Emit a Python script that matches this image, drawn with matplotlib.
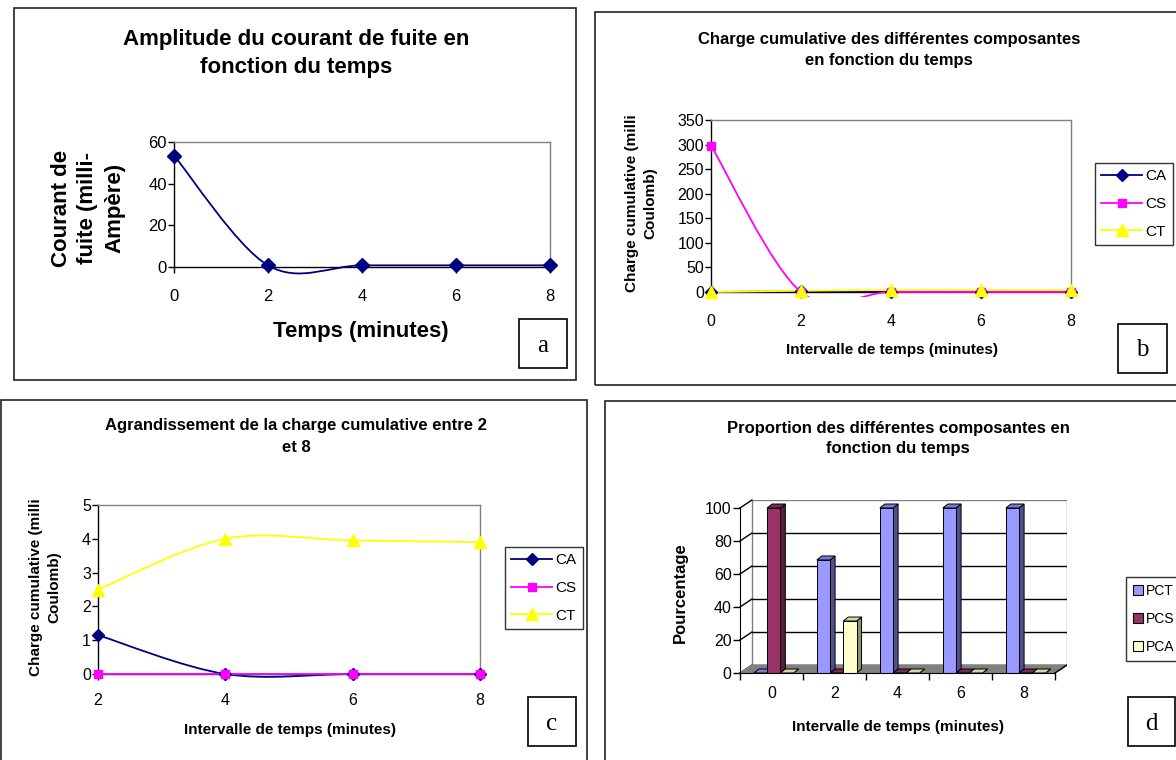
import numpy as np
import matplotlib
matplotlib.use('Agg')
import matplotlib.pyplot as plt
from matplotlib.path import Path
from matplotlib.patches import PathPatch, Rectangle, Patch
from matplotlib.lines import Line2D

plt.rcParams['font.family'] = ['Liberation Sans', 'DejaVu Sans']

W, H = 1176, 760

# values
temps = [0, 2, 4, 6, 8]
courant = [53.5, 0.8, 0.8, 0.8, 0.8]
ca = [0, 1.15, 0, 0, 0]
cs = [298, 0, 0, 0, 0]
ct = [0, 2.5, 4.0, 3.95, 3.9]
pct = [0, 68.5, 100, 100, 100]
pcs = [100, 0, 0, 0, 0]
pca = [0, 31.5, 0, 0, 0]

NAVY, MAG, YEL = '#000080', '#FF00FF', '#FFFF00'

fig = plt.figure(figsize=(W / 100, H / 100), dpi=100)


def fx(x):
    return x / W


def fy(y):
    return 1 - y / H


def add_ax(l, t, r, b):
    return fig.add_axes([l / W, 1 - b / H, (r - l) / W, (b - t) / H])


def box(l, t, r, b, lw=1.2, ec='#222222'):
    fig.add_artist(Rectangle((fx(l), fy(b)), (r - l) / W, (b - t) / H,
                             transform=fig.transFigure, fill=False, ec=ec, lw=lw))


def letter_box(l, t, r, b, s):
    box(l, t, r, b, lw=1.2, ec='black')
    fig.text(fx((l + r) / 2), fy((t + b) / 2 + 2), s, family='Liberation Serif',
             size=18, ha='center', va='center')


def smooth(x, y):
    # Excel-like smoothed line: Catmull-Rom turned into cubic Bezier segments
    pts = np.column_stack([x, y]).astype(float)
    n = len(pts)
    verts, codes = [pts[0]], [Path.MOVETO]
    for i in range(n - 1):
        p0, p1 = pts[max(i - 1, 0)], pts[i]
        p2, p3 = pts[i + 1], pts[min(i + 2, n - 1)]
        verts += [p1 + (p2 - p0) / 6, p2 - (p3 - p1) / 6, p2]
        codes += [Path.CURVE4] * 3
    return Path(verts, codes)


def excel_line(ax, x, y, color, marker, ms, floor, top):
    patch = PathPatch(smooth(x, y), fill=False, ec=color, lw=1.3, zorder=3)
    ax.add_patch(patch)
    clip = Rectangle((x[0] - 1, floor), x[-1] - x[0] + 2, top - floor,
                     transform=ax.transData)
    patch.set_clip_path(clip)
    ax.plot(x, y, ls='none', marker=marker, ms=ms, color=color, mec=color,
            zorder=4, clip_on=False)


def excel_axes(ax, xlim, xticks, ylim, yticks, xpad, fs):
    ax.set_xlim(xlim)
    ax.set_ylim(ylim)
    ax.set_xticks(xticks)
    ax.set_yticks(yticks)
    for s in ['top', 'right']:
        ax.spines[s].set_color('#808080')
    for s in ['left', 'bottom']:
        ax.spines[s].set_color('black')
    for s in ax.spines.values():
        s.set_linewidth(1.0)
    ax.tick_params(direction='out', length=4, width=1, labelsize=fs)
    ax.tick_params(axis='x', pad=xpad)
    ax.tick_params(axis='y', pad=1)


def line_legend(x, y):
    handles = [Line2D([], [], color=NAVY, marker='D', ms=6, lw=1.3, label='CA'),
               Line2D([], [], color=MAG, marker='s', ms=6, lw=1.3, label='CS'),
               Line2D([], [], color=YEL, marker='^', ms=8, lw=1.3, label='CT')]
    leg = fig.legend(handles=handles, loc='upper left',
                     bbox_to_anchor=(fx(x), fy(y)), fancybox=False,
                     edgecolor='black', fontsize=11, handlelength=2.7,
                     labelspacing=0.9, borderpad=0.4, handletextpad=0.2,
                     borderaxespad=0)
    leg.get_frame().set_linewidth(1.0)


# panel frames
box(14, 8, 576, 380)
box(595, 12, 1180, 385)
box(1, 400, 587, 765)
box(605, 401, 1180, 765)

# ---- a ----
axa = add_ax(174, 142, 550, 267)
excel_axes(axa, (0, 8), temps, (0, 60), [0, 20, 40, 60], 12, 12)
excel_line(axa, temps, courant, NAVY, 'D', 7, -5, 60)
fig.text(fx(296), fy(53.5), 'Amplitude du courant de fuite en\nfonction du temps',
         size=16, weight='bold', ha='center', va='center', linespacing=1.4)
fig.text(fx(88), fy(208), 'Courant de\nfuite (milli-\nAmpère)', size=16,
         weight='bold', rotation=90, ha='center', va='center', linespacing=1.35)
fig.text(fx(361), fy(331), 'Temps (minutes)', size=16, weight='bold',
         ha='center', va='center')
letter_box(519, 319, 567, 368, 'a')

# ---- b ----
axb = add_ax(711, 120, 1071, 292)
excel_axes(axb, (0, 8), temps, (0, 350), range(0, 351, 50), 12, 11.5)
excel_line(axb, temps, ca, NAVY, 'D', 6, -10, 350)
excel_line(axb, temps, cs, MAG, 's', 6, -10, 350)
excel_line(axb, temps, ct, YEL, '^', 8, -10, 350)
fig.text(fx(889), fy(50), 'Charge cumulative des différentes composantes\nen fonction du temps',
         size=12, weight='bold', ha='center', va='center', linespacing=1.55)
fig.text(fx(641), fy(203), 'Charge cumulative (milli\nCoulomb)', size=11,
         weight='bold', rotation=90, ha='center', va='center', linespacing=1.45)
fig.text(fx(892), fy(350), 'Intervalle de temps (minutes)', size=11,
         weight='bold', ha='center', va='center')
line_legend(1095, 163)
letter_box(1118, 324, 1167, 373, 'b')

# ---- c ----
axc = add_ax(98, 505, 480, 674)
excel_axes(axc, (2, 8), temps[1:], (0, 5), range(0, 6), 10, 11.5)
excel_line(axc, temps[1:], ca[1:], NAVY, 'D', 6, -0.2, 5)
excel_line(axc, temps[1:], cs[1:], MAG, 's', 6, -0.2, 5)
excel_line(axc, temps[1:], ct[1:], YEL, '^', 8, -0.2, 5)
fig.text(fx(296), fy(436.5), 'Agrandissement de la charge cumulative entre 2\net 8',
         size=12, weight='bold', ha='center', va='center', linespacing=1.6)
fig.text(fx(45), fy(587), 'Charge cumulative (milli\nCoulomb)', size=11,
         weight='bold', rotation=90, ha='center', va='center', linespacing=1.45)
fig.text(fx(290), fy(730), 'Intervalle de temps (minutes)', size=11,
         weight='bold', ha='center', va='center')
line_legend(505, 547)
letter_box(528, 697, 576, 746, 'c')

# ---- d : 3D-looking column chart ----
axd = add_ax(740, 500, 1067, 673)
ncat = len(temps)
dxw, dyw = 12 / 63, 8 / 1.65     # depth of the chart walls
bdx, bdy = 5 / 63, 4 / 1.65      # depth of each column
w = 0.21
axd.set_xlim(0, ncat + dxw)
axd.set_ylim(0, 100 + dyw)
axd.add_patch(Rectangle((dxw, dyw), ncat, 100, fc='white', ec='#808080', lw=1, zorder=0))
for v in range(20, 100, 20):
    axd.plot([dxw, ncat + dxw], [v + dyw] * 2, color='black', lw=1, zorder=1)
for v in range(0, 101, 20):
    axd.plot([0, dxw], [v, v + dyw], color='black', lw=1, zorder=1, clip_on=False)
axd.fill([0, ncat, ncat + dxw, dxw], [0, 0, dyw, dyw], color='#808080', zorder=1)
axd.plot([ncat, ncat + dxw], [0, dyw], color='black', lw=1, zorder=1)

series = [(pct, 'PCT', '#9999FF', '#50508F', '#7B7BD6'),
          (pcs, 'PCS', '#993366', '#5A1E3C', '#7A2952'),
          (pca, 'PCA', '#FFFFCC', '#8F8F72', '#D6D6AB')]
for j, (vals, name, front, side, top) in enumerate(series):
    lefts = np.arange(ncat) + 0.22 + w * j
    for x0, v in zip(lefts, vals):
        axd.fill([x0 + w, x0 + w + bdx, x0 + w + bdx, x0 + w], [0, bdy, v + bdy, v],
                 fc=side, ec='black', lw=0.7, zorder=2 + j * 0.1)
        axd.fill([x0, x0 + w, x0 + w + bdx, x0 + bdx], [v, v, v + bdy, v + bdy],
                 fc=top, ec='black', lw=0.7, zorder=2 + j * 0.1)
    axd.bar(lefts, vals, width=w, align='edge', color=front, edgecolor='black',
            lw=0.7, zorder=2.05 + j * 0.1)

for s in ['top', 'right']:
    axd.spines[s].set_visible(False)
axd.spines['left'].set_bounds(0, 100)
axd.spines['bottom'].set_bounds(0, ncat)
axd.spines['bottom'].set_zorder(5)
axd.set_yticks(range(0, 101, 20))
axd.set_xticks(range(ncat + 1), [''] * (ncat + 1))
axd.set_xticks(np.arange(ncat) + 0.5, temps, minor=True)
axd.tick_params(which='both', direction='out', length=5, width=1, labelsize=11.5)
axd.tick_params(axis='x', which='minor', length=0, pad=9)
axd.tick_params(axis='y', pad=1)

fig.text(fx(898), fy(438.5), 'Proportion des différentes composantes en\nfonction du temps',
         size=12, weight='bold', ha='center', va='center', linespacing=1.5)
fig.text(fx(680), fy(593), 'Pourcentage', size=12, weight='bold', rotation=90,
         ha='center', va='center')
fig.text(fx(898), fy(727), 'Intervalle de temps (minutes)', size=11,
         weight='bold', ha='center', va='center')
handles = [Patch(fc=c, ec='black', lw=0.8, label=n) for _, n, c, _, _ in series]
leg = fig.legend(handles=handles, loc='upper left', bbox_to_anchor=(fx(1126), fy(577)),
                 fancybox=False, edgecolor='black', fontsize=10, handlelength=0.7,
                 handleheight=0.7, labelspacing=1.0, borderpad=0.5,
                 handletextpad=0.25, borderaxespad=0)
leg.get_frame().set_linewidth(1.0)
letter_box(1128, 697, 1175, 746, 'd')

fig.savefig('out.png', dpi=100)
